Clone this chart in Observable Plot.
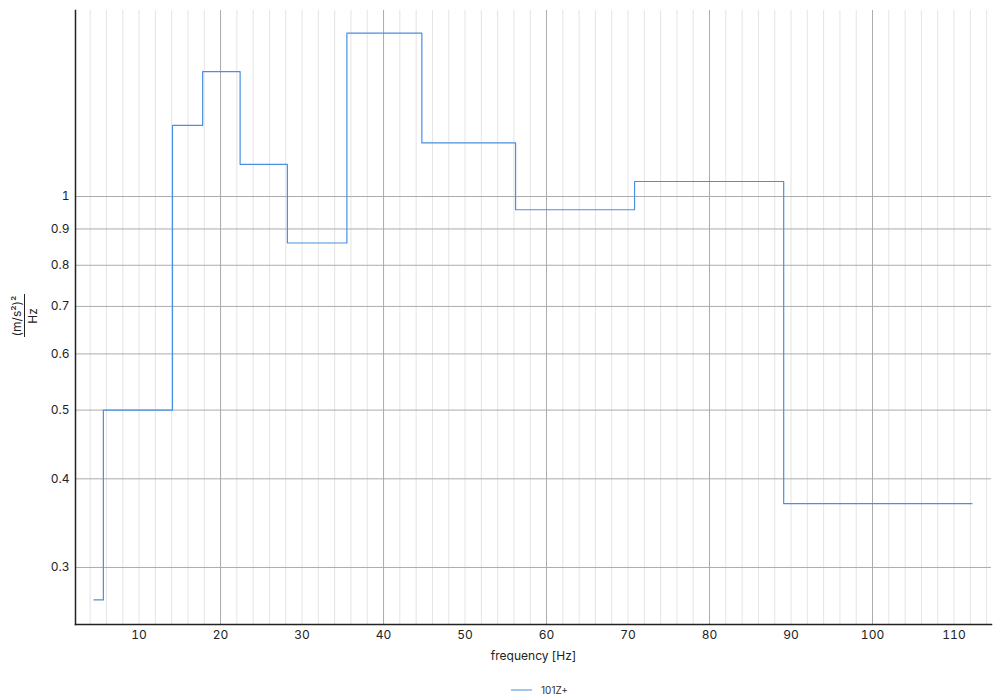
<!DOCTYPE html>
<html><head><meta charset="utf-8">
<script src="https://cdn.jsdelivr.net/npm/d3@7"></script>
<script src="https://cdn.jsdelivr.net/npm/@observablehq/plot@0.6"></script>
<style>
body{margin:0;background:#fff;font-family:Inter,"Noto Sans",sans-serif}
#legend{position:absolute;left:511px;top:684px;height:12px;display:flex;align-items:center;font-size:10px;color:#333}
#legend .sw{display:inline-block;width:21px;height:0;border-top:2px solid #a3c6ee;margin-right:9px}
</style>
</head><body>
<div id="chart"></div>
<div id="legend"><span class="sw"></span><span id="lname"></span></div>
<script>
// band edges (Hz) and levels ((m/s²)²/Hz)
const bandEdges = [4.47, 5.62, 14.1, 17.8, 22.4, 28.2, 35.5, 44.7, 56.2, 70.8, 89.1, 112.2];
const levels    = [0.27, 0.50, 1.26, 1.50, 1.11, 0.86, 1.70, 1.19, 0.958, 1.05, 0.369];
const seriesName = "101Z+";
const xTicks = [10, 20, 30, 40, 50, 60, 70, 80, 90, 100, 110];
const yTicks = [0.3, 0.4, 0.5, 0.6, 0.7, 0.8, 0.9, 1];
const majorX = [20, 40, 60, 80, 100];
const minorX = [4, 6, 8, 10, 12, 14, 16, 18, 22, 24, 26, 28, 30, 32, 34, 36, 38, 42, 44, 46, 48, 50, 52, 54, 56, 58, 62, 64, 66, 68, 70, 72, 74, 76, 78, 82, 84, 86, 88, 90, 92, 94, 96, 98, 102, 104, 106, 108, 110, 112, 114];

const data = bandEdges.map((f, i) => ({f, v: levels[Math.min(i, levels.length - 1)]}));
document.getElementById("lname").textContent = seriesName;

const chart = Plot.plot({
  width: 1000,
  height: 670,
  marginLeft: 75,
  marginRight: 9,
  marginTop: 10,
  marginBottom: 46,
  style: {fontFamily: "Inter, 'Noto Sans', sans-serif", fontSize: "12px", color: "#222", background: "#fff"},
  x: {domain: [2.2, 114.6], ticks: xTicks, tickSize: 0, tickPadding: 6, label: null},
  y: {type: "log", domain: [0.2493, 1.829], ticks: yTicks, tickFormat: d => String(d), tickSize: 0, tickPadding: 6, label: null},
  marks: [
    Plot.ruleX(minorX, {stroke: "#e4e4e4", strokeWidth: 1}),
    Plot.ruleX(majorX, {stroke: "#ababab", strokeWidth: 1}),
    Plot.ruleY(yTicks, {stroke: "#ababab", strokeWidth: 1}),
    Plot.line(data, {x: "f", y: "v", curve: "step-after", stroke: "#4a90e2", strokeWidth: 1.2}),
    Plot.axisX({ticks: xTicks, tickSize: 0, tickPadding: 6, fontSize: 12, label: null}),
    Plot.axisY({ticks: yTicks, tickSize: 0, tickPadding: 6, fontSize: 12, tickFormat: d => String(d), label: null}),
    Plot.frame({anchor: "left", stroke: "#222", strokeWidth: 1.5}),
    Plot.frame({anchor: "bottom", stroke: "#222", strokeWidth: 1.5}),
    Plot.text(["frequency [Hz]"], {frameAnchor: "bottom", dy: 35, fontSize: 12, fill: "#222"})
  ]
});
document.getElementById("chart").appendChild(chart);

// y-axis label as a fraction: (m/s²)² over Hz
const svg = d3.select(chart);
const g = svg.append("g").attr("font-family", "Inter, 'Noto Sans', sans-serif").attr("fill", "#222").attr("font-size", 12);
g.append("text").attr("transform", "translate(21,316) rotate(-90)").attr("text-anchor", "middle").text("(m/s²)²");
g.append("line").attr("x1", 24.5).attr("x2", 24.5).attr("y1", 294).attr("y2", 337).attr("stroke", "#222").attr("stroke-width", 1);
g.append("text").attr("transform", "translate(37,316) rotate(-90)").attr("text-anchor", "middle").text("Hz");
</script>
</body></html>
